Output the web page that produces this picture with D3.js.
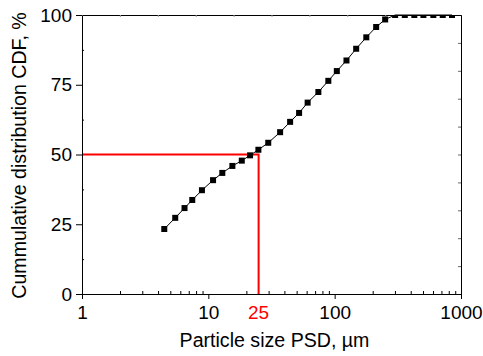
<!DOCTYPE html>
<html>
<head>
<meta charset="utf-8">
<script src="https://cdn.jsdelivr.net/npm/d3@7"></script>
<style>
  body { margin: 0; background: #fff; }
  text { font-family: "Liberation Sans", Arial, sans-serif; }
</style>
</head>
<body>
<div id="chart"></div>
<script>
// particle sizes (µm) and cumulative distribution (%)
const sizes = [4.48, 5.47, 6.48, 7.46, 8.9, 10.9, 12.9, 15.5, 18.4, 21.4, 24.9, 29.8, 37.0, 44.4, 52.3,
    61.1, 74.3, 89.1, 104, 124, 148, 178, 213, 251, 301, 359, 427, 504, 604, 717, 849];
const cdf = [23.3, 27.3, 30.8, 33.7, 37.2, 40.8, 43.4, 45.9, 47.8, 49.7, 51.7, 54.2, 58.0, 61.7, 64.9,
    68.6, 72.4, 76.4, 79.9, 83.7, 87.9, 92.0, 95.7, 98.4, 100, 100, 100, 100, 100, 100, 100];
const xTicks = [1, 10, 100, 1000];
const xMinor = [2, 3, 4, 5, 6, 7, 8, 9, 20, 30, 40, 50, 60, 70, 80, 90, 200, 300, 400, 500, 600, 700, 800, 900];
const yTicks = [0, 25, 50, 75, 100];
const yMinor = [12.5, 37.5, 62.5, 87.5];
const d50 = 25, cdf50 = 50;

const margin = {top: 15, right: 22, bottom: 62, left: 82};
const width = 483 - margin.left - margin.right;
const height = 356 - margin.top - margin.bottom;

const xScale = d3.scaleLog().domain([1, 1000]).range([0, width]);
const yScale = d3.scaleLinear().domain([0, 100]).range([height, 0]);

const svg = d3.select("#chart")
    .append("svg")
    .attr("width", 483)
    .attr("height", 356)
    .append("g")
    .attr("transform", `translate(${margin.left},${margin.top})`);

svg.append("clipPath").attr("id", "clip")
    .append("rect").attr("width", width).attr("height", height);

// mirrored top / right axes with small grey ticks
const frac = d3.scaleLinear().domain([0, 1]).range([0, width]);
svg.append("g")
    .call(d3.axisTop(frac).ticks(10).tickSize(-2).tickFormat(""))
    .call(g => g.selectAll(".tick line").attr("stroke", "#999"))
    .call(g => g.select(".domain").attr("stroke", "#000"));
svg.append("g")
    .attr("transform", `translate(${width},0)`)
    .call(d3.axisRight(yScale).tickValues(d3.range(10, 100, 10)).tickSize(-3).tickFormat(""))
    .call(g => g.selectAll(".tick line").attr("stroke", "#666"))
    .call(g => g.select(".domain").attr("stroke", "#000"));

// data line + markers
const line = d3.line().x((d, i) => xScale(sizes[i])).y(d => yScale(d));
svg.append("path")
    .datum(cdf)
    .attr("fill", "none")
    .attr("stroke", "#000")
    .attr("stroke-width", 1)
    .attr("d", line);

// D50 guide lines
svg.append("path")
    .attr("fill", "none")
    .attr("stroke", "#ff0000")
    .attr("stroke-width", 2)
    .attr("d", `M0,${yScale(cdf50)}H${xScale(d50)}V${height}`);

svg.append("g").attr("clip-path", "url(#clip)")
    .selectAll(".pt")
    .data(cdf)
    .enter().append("rect")
    .attr("class", "pt")
    .attr("x", (d, i) => xScale(sizes[i]) - 3)
    .attr("y", d => yScale(d) - 3)
    .attr("width", 6)
    .attr("height", 6)
    .attr("fill", "#000");

// bottom axis
svg.append("g")
    .attr("transform", `translate(0,${height})`)
    .call(d3.axisBottom(xScale).tickValues(xMinor).tickSize(-3).tickFormat(""))
    .call(g => g.select(".domain").remove());
svg.append("g")
    .attr("transform", `translate(0,${height})`)
    .call(d3.axisBottom(xScale).tickValues(xTicks).tickSize(5).tickPadding(7).tickSizeOuter(0).tickFormat(d3.format("d")))
    .call(g => g.selectAll("text").attr("font-size", "19px").attr("fill", "#000").attr("font-family", null));

svg.append("text")
    .attr("x", xScale(d50))
    .attr("y", height + 12)
    .attr("dy", "0.71em")
    .attr("text-anchor", "middle")
    .attr("font-size", "19px")
    .attr("fill", "#ff0000")
    .text(d50);

// left axis
svg.append("g")
    .call(d3.axisLeft(yScale).tickValues(yMinor).tickSize(-2).tickFormat(""))
    .call(g => g.select(".domain").remove());
svg.append("g")
    .call(d3.axisLeft(yScale).tickValues(yTicks).tickSize(6).tickPadding(4).tickSizeOuter(0))
    .call(g => g.selectAll("text").attr("font-size", "19px").attr("fill", "#000").attr("font-family", null));

// axis titles
svg.append("text")
    .attr("x", width / 2 + 3)
    .attr("y", height + 53)
    .attr("text-anchor", "middle")
    .attr("font-size", "19.6px")
    .text("Particle size PSD, µm");

svg.append("text")
    .attr("transform", `translate(${26 - margin.left},${height / 2 + 1}) rotate(-90)`)
    .attr("text-anchor", "middle")
    .attr("font-size", "19.6px")
    .text("Cummulative distribution CDF, %");
</script>
</body>
</html>
